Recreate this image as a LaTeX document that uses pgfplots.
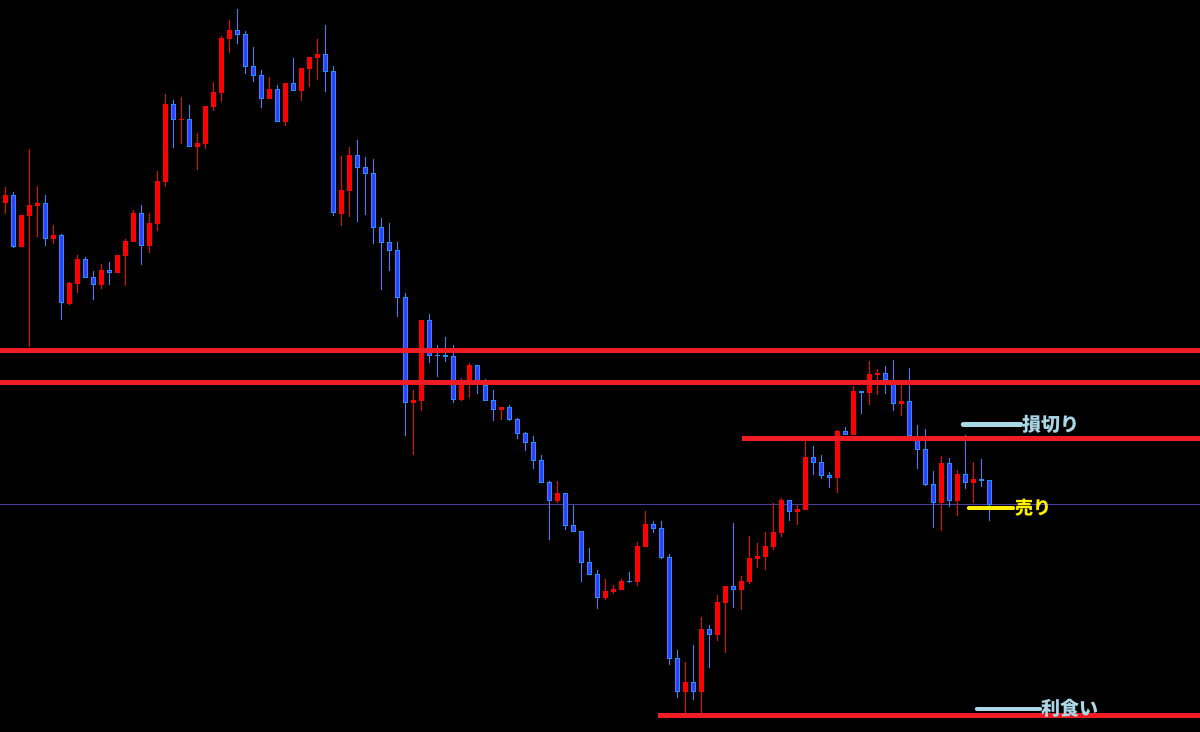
\documentclass[border=0pt]{standalone}
\usepackage{pgfplots}
\pgfplotsset{compat=1.18}
\usepackage{pgfplotstable}
\usepackage{fontspec}
\newfontfamily\cjk{Noto Sans CJK JP}
\definecolor{candlered}{RGB}{255,0,0}
\definecolor{wickblue}{RGB}{30,144,255}
\definecolor{bodyblue}{RGB}{60,60,255}
\definecolor{levelred}{RGB}{240,28,36}
\definecolor{midpurple}{RGB}{75,60,160}
\definecolor{lblue}{RGB}{170,215,230}
\definecolor{lyellow}{RGB}{255,240,0}

% k = candle index, bt/bb = body top/bottom, hi/lo = wick ends (pixel rows, y downwards)
\pgfplotstableread{
k bt bb hi lo
0 195 203 187 214
2 215 247 215 247
3 205 216 149 347
4 203 206 186 237
6 235 239 225 244
8 283 304 282 305
9 259 284 255 293
12 270 285 264 289
14 255 273 255 273
15 241 256 239 286
16 213 242 210 242
18 223 246 213 253
19 181 224 171 231
20 104 182 94 187
22 119 120 97 144
24 143 147 133 170
25 106 144 106 149
26 92 107 82 111
27 38 93 36 102
28 30 39 20 53
33 89 99 77 99
35 83 122 83 126
37 68 91 68 101
38 57 69 57 87
39 54 58 39 80
42 190 214 156 226
43 155 191 147 217
51 400 403 390 455
52 320 401 320 411
57 381 400 378 401
58 365 380 363 398
62 407 410 407 420
69 493 501 481 503
75 591 598 579 600
76 589 592 585 594
77 581 590 579 590
79 546 582 542 586
80 524 547 511 547
85 682 692 662 713
87 629 692 617 713
89 602 635 595 641
90 586 603 586 653
92 581 590 576 610
93 558 582 536 584
94 556 559 543 568
95 546 557 532 570
96 532 547 503 550
97 500 533 498 537
99 509 512 505 525
100 457 510 441 510
104 431 478 430 493
106 391 435 386 435
108 374 393 361 405
109 373 375 369 395
112 401 404 384 416
117 463 503 456 531
119 474 501 470 516
121 479 483 462 503
}\up

\pgfplotstableread{
k bt bb hi lo
1 195 247 192 248
5 203 239 195 246
7 235 303 234 320
10 259 278 257 278
11 277 285 271 300
13 270 273 262 285
17 213 246 205 265
21 104 120 100 148
23 119 147 105 147
29 30 35 9 44
30 34 67 31 74
31 66 76 47 82
32 75 99 70 108
34 89 122 85 122
36 83 91 58 91
40 54 72 25 92
41 71 213 66 216
44 155 168 140 222
45 167 174 157 215
46 173 228 159 244
47 227 243 218 290
48 242 251 223 271
49 250 298 242 317
50 297 403 293 436
53 320 356 314 363
54 355 356 345 377
55 355 357 337 362
56 356 400 345 403
59 365 381 365 394
60 385 401 379 401
61 400 410 390 421
63 407 420 405 421
64 419 434 418 439
65 433 443 432 451
66 442 461 436 469
67 460 483 455 483
68 482 501 481 540
70 493 526 493 530
71 525 532 505 532
72 531 563 531 582
73 562 575 548 575
74 574 598 570 609
78 581 582 572 583
81 524 529 521 533
82 528 558 521 559
83 557 659 554 665
84 658 692 650 698
86 682 692 645 700
88 629 635 625 668
91 586 590 523 608
98 500 512 500 521
101 457 463 446 475
102 462 476 455 479
103 475 478 472 488
105 431 435 427 435
107 391 393 391 414
110 373 380 366 394
111 380 404 360 411
113 401 436 368 436
114 436 450 425 469
115 449 485 429 486
116 484 503 471 528
118 463 501 458 507
120 474 483 435 489
122 479 481 459 487
123 480 505 480 521
}\down

\begin{document}
\begin{tikzpicture}
\begin{axis}[
  scale only axis, width=600pt, height=366pt,
  xmin=0, xmax=1200, ymin=0, ymax=732, y dir=reverse,
  enlargelimits=false,
  axis background/.style={fill=black},
  axis line style={draw=none}, ticks=none,
]
% thin mid line
\addplot[midpurple, line width=0.5pt] coordinates {(0,504.3) (1200,504.3)};

% wicks
\addplot[draw=none, mark=none,
  error bars/.cd, y dir=both, y explicit, error mark=none,
  error bar style={draw=candlered, line width=0.5pt}]
  table[x expr=5.3+8*\thisrow{k}, y expr=(\thisrow{hi}+\thisrow{lo})/2,
        y error expr=(\thisrow{lo}-\thisrow{hi})/2]{\up};
\addplot[draw=none, mark=none,
  error bars/.cd, y dir=both, y explicit, error mark=none,
  error bar style={draw=wickblue, line width=0.5pt}]
  table[x expr=5.3+8*\thisrow{k}, y expr=(\thisrow{hi}+\thisrow{lo})/2,
        y error expr=(\thisrow{lo}-\thisrow{hi})/2]{\down};

% bodies
\addplot[draw=none, mark=none,
  error bars/.cd, y dir=both, y explicit, error mark=none,
  error bar style={draw=candlered, line width=2.5pt}]
  table[x expr=5.3+8*\thisrow{k}, y expr=(\thisrow{bt}+\thisrow{bb})/2,
        y error expr=(\thisrow{bb}-\thisrow{bt})/2]{\up};
\addplot[draw=none, mark=none,
  error bars/.cd, y dir=both, y explicit, error mark=none,
  error bar style={draw=wickblue, line width=2.5pt}]
  table[x expr=5.3+8*\thisrow{k}, y expr=(\thisrow{bt}+\thisrow{bb})/2,
        y error expr=(\thisrow{bb}-\thisrow{bt})/2]{\down};
\addplot[draw=none, mark=none,
  error bars/.cd, y dir=both, y explicit, error mark=none,
  error bar style={draw=bodyblue, line width=1.5pt}]
  table[x expr=5.3+8*\thisrow{k}, y expr=(\thisrow{bt}+\thisrow{bb})/2,
        y error expr={max((\thisrow{bb}-\thisrow{bt})/2-1,0)}]{\down};

% level lines
\addplot[levelred, line width=2.4pt] coordinates {(0,350.3) (1200,350.3)};
\addplot[levelred, line width=2.4pt] coordinates {(0,382.5) (1200,382.5)};
\addplot[levelred, line width=2.4pt] coordinates {(742,438.3) (1200,438.3)};
\addplot[levelred, line width=2.4pt] coordinates {(658,715.5) (1200,715.5)};

% annotation lines
\addplot[lblue, line width=2.2pt, line cap=round] coordinates {(963,424.5) (1021,424.5)};
\addplot[lyellow, line width=2.2pt, line cap=round] coordinates {(969,508.3) (1013,508.3)};
\addplot[lblue, line width=2.2pt, line cap=round] coordinates {(977,709) (1040,709)};

\node[anchor=west, inner sep=0pt, text=lblue, font={\fontsize{9.5}{11}\selectfont\cjk\bfseries}] at (axis cs:1022,424) {損切り};
\node[anchor=west, inner sep=0pt, text=lyellow, font={\fontsize{9}{11}\selectfont\cjk\bfseries}] at (axis cs:1015,508) {売り};
\node[anchor=west, inner sep=0pt, text=lblue, font={\fontsize{9.5}{11}\selectfont\cjk\bfseries}] at (axis cs:1041,708) {利食い};
\end{axis}
\end{tikzpicture}
\end{document}
